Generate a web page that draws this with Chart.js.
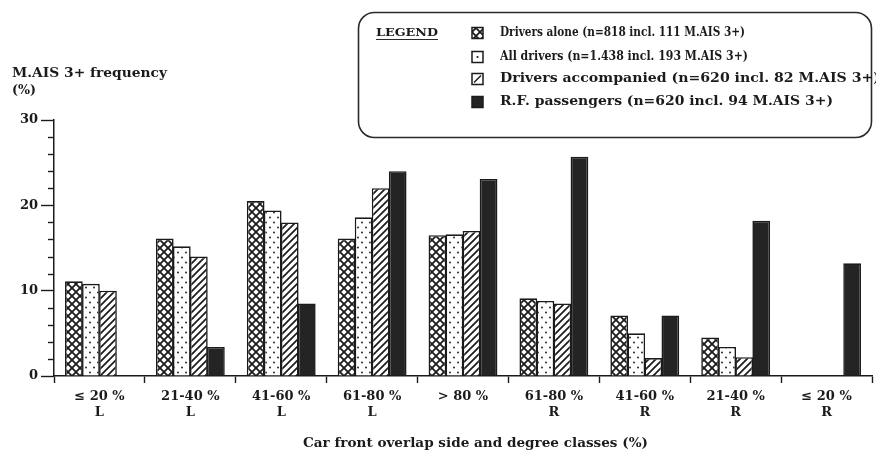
<!DOCTYPE html>
<html>
<head>
<meta charset="utf-8">
<script src="https://cdn.jsdelivr.net/npm/chart.js@4.4.1/dist/chart.umd.min.js"></script>
<style>
  html, body { margin: 0; padding: 0; background: #ffffff; }
  canvas { display: block; }
</style>
</head>
<body>
<canvas id="chart" width="876" height="454"></canvas>
<script>
// Overlap classes: side of the car front (L / R) and degree of overlap
const categories = [
  ["≤ 20 %", "L"],
  ["21-40 %", "L"],
  ["41-60 %", "L"],
  ["61-80 %", "L"],
  ["> 80 %"],
  ["61-80 %", "R"],
  ["41-60 %", "R"],
  ["21-40 %", "R"],
  ["≤ 20 %", "R"]
];

const seriesNames = [
  "Drivers alone (n=818 incl. 111 M.AIS 3+)",
  "All drivers (n=1.438 incl. 193 M.AIS 3+)",
  "Drivers accompanied (n=620 incl. 82 M.AIS 3+)",
  "R.F. passengers (n=620 incl. 94 M.AIS 3+)"
];

// M.AIS 3+ frequency in percent per overlap class
const driversAlone       = [11.1, 16.1, 20.5, 16.1, 16.5, 9.1, 7.1, 4.5, null];
const allDrivers         = [10.8, 15.2, 19.4, 18.6, 16.6, 8.8, 5.0, 3.4, null];
const driversAccompanied = [10.0, 14.0, 18.0, 22.0, 17.0, 8.5, 2.1, 2.2, null];
const rfPassengers       = [null, 3.4, 8.5, 24.0, 23.1, 25.7, 7.1, 18.2, 13.2];

const yTicks = [0, 10, 20, 30];
const yMinorStep = 2;

const yTitleLines = ["M.AIS 3+ frequency", "(%)"];
const xTitle = "Car front overlap side and degree classes (%)";
const legendHeading = "LEGEND";

const INK = "#1b1b1b";
const FONT = "'DejaVu Serif', 'Liberation Serif', serif";

// Fill patterns for the monochrome bars
function makePattern(kind) {
  const c = document.createElement("canvas");
  const g = c.getContext("2d");
  if (kind === "cross") {
    const s = 8;
    c.width = s; c.height = s;
    g.fillStyle = "#fff"; g.fillRect(0, 0, s, s);
    g.strokeStyle = INK; g.lineWidth = 1.8;
    g.beginPath();
    g.moveTo(-1, -1); g.lineTo(s + 1, s + 1);
    g.moveTo(-1, s + 1); g.lineTo(s + 1, -1);
    g.stroke();
  } else if (kind === "dots") {
    const w = 8, h = 10;
    c.width = w; c.height = h;
    g.fillStyle = "#fff"; g.fillRect(0, 0, w, h);
    g.fillStyle = "#2a2a2a";
    g.beginPath(); g.arc(2, 2.5, 1.0, 0, Math.PI * 2); g.fill();
    g.beginPath(); g.arc(6, 7.5, 1.0, 0, Math.PI * 2); g.fill();
  } else if (kind === "slash") {
    const s = 7;
    c.width = s; c.height = s;
    g.fillStyle = "#fff"; g.fillRect(0, 0, s, s);
    g.strokeStyle = INK; g.lineWidth = 1.7;
    g.beginPath();
    g.moveTo(-1, s + 1); g.lineTo(s + 1, -1);
    g.moveTo(-2, 2); g.lineTo(2, -2);
    g.moveTo(s - 2, s + 2); g.lineTo(s + 2, s - 2);
    g.stroke();
  } else {
    return "#242424";
  }
  return g.createPattern(c, "repeat");
}

const hatches = ["cross", "dots", "slash", "solid"];
const seriesValues = [driversAlone, allDrivers, driversAccompanied, rfPassengers];

const datasets = seriesValues.map((values, i) => ({
  label: seriesNames[i],
  data: values,
  hatch: hatches[i],
  backgroundColor: makePattern(hatches[i]),
  borderColor: INK,
  borderWidth: 1.6,
  categoryPercentage: 0.75,
  barPercentage: 1.04
}));

// Draws text squeezed or stretched to a given width, vertically centred on yMid
function fitText(ctx, text, x, yMid, width, font) {
  ctx.save();
  ctx.font = font;
  ctx.textBaseline = "middle";
  ctx.textAlign = "left";
  const m = ctx.measureText(text).width;
  ctx.translate(x, yMid);
  ctx.scale(width / m, 1);
  ctx.fillText(text, 0, 0);
  ctx.restore();
}

function drawLegendIcon(ctx, kind, pattern, x, y, s) {
  ctx.save();
  ctx.fillStyle = kind === "solid" ? "#242424" : "#fff";
  ctx.fillRect(x, y, s, s);
  ctx.strokeStyle = INK;
  ctx.lineWidth = 1.5;
  if (kind === "cross") {
    ctx.fillStyle = pattern;
    ctx.fillRect(x, y, s, s);
  } else if (kind === "dots") {
    ctx.fillStyle = INK;
    ctx.beginPath(); ctx.arc(x + s / 2, y + s / 2, 1.1, 0, Math.PI * 2); ctx.fill();
  } else if (kind === "slash") {
    ctx.beginPath();
    ctx.moveTo(x + 2, y + s - 2); ctx.lineTo(x + s - 2, y + 2);
    ctx.stroke();
  }
  ctx.strokeRect(x, y, s, s);
  ctx.restore();
}

const annotations = {
  id: "annotations",
  afterDraw(chart) {
    const { ctx, chartArea, scales } = chart;
    const y = scales.y;
    ctx.save();
    ctx.fillStyle = INK;
    ctx.strokeStyle = INK;

    // minor ticks on the value axis
    ctx.lineWidth = 1.4;
    for (let v = 0; v <= y.max; v += yMinorStep) {
      if (yTicks.includes(v)) continue;
      const py = Math.round(y.getPixelForValue(v)) + 0.5;
      ctx.beginPath();
      ctx.moveTo(chartArea.left - 6, py);
      ctx.lineTo(chartArea.left, py);
      ctx.stroke();
    }

    // value axis title, top left
    fitText(ctx, yTitleLines[0], 12, 74, 155, "bold 13px " + FONT);
    fitText(ctx, yTitleLines[1], 12, 91, 24, "bold 13px " + FONT);

    // category axis title
    fitText(ctx, xTitle, 303, 444, 345, "bold 13px " + FONT);

    // legend frame
    ctx.lineWidth = 1.6;
    ctx.strokeStyle = "#2a2a2a";
    ctx.beginPath();
    ctx.roundRect(358.5, 12.5, 513, 125, 16);
    ctx.stroke();

    // legend heading, underlined
    ctx.fillStyle = INK;
    fitText(ctx, legendHeading, 376, 33, 62, "bold 11px " + FONT);
    ctx.lineWidth = 1.2;
    ctx.beginPath();
    ctx.moveTo(376, 39.5); ctx.lineTo(438, 39.5);
    ctx.stroke();

    // legend entries
    const rowY = [33, 57, 79, 102];
    const rowW = [245, 248, 380, 333];
    chart.data.datasets.forEach((ds, i) => {
      drawLegendIcon(ctx, ds.hatch, ds.backgroundColor, 472, rowY[i] - 5.5, 11);
      ctx.fillStyle = INK;
      fitText(ctx, ds.label, 500, rowY[i], rowW[i], "bold 12px " + FONT);
    });

    ctx.restore();
  }
};

new Chart(document.getElementById("chart"), {
  type: "bar",
  data: { labels: categories, datasets },
  plugins: [annotations],
  options: {
    responsive: false,
    devicePixelRatio: 1,
    animation: false,
    layout: { padding: { top: 120, right: 4, left: 0, bottom: 0 } },
    plugins: {
      legend: { display: false },
      tooltip: { enabled: false }
    },
    scales: {
      x: {
        offset: true,
        grid: {
          offset: true,
          drawOnChartArea: false,
          drawTicks: true,
          tickLength: 7,
          tickColor: INK,
          tickWidth: 1.4
        },
        border: { display: true, color: INK, width: 1.5 },
        ticks: {
          color: INK,
          padding: 6,
          autoSkip: false,
          maxRotation: 0,
          font: { family: FONT, size: 13, weight: "bold", lineHeight: 1.2 }
        },
        afterFit(scale) { scale.height = 78; }
      },
      y: {
        min: 0,
        max: 30,
        afterBuildTicks(scale) { scale.ticks = yTicks.map(v => ({ value: v })); },
        grid: {
          drawOnChartArea: false,
          drawTicks: true,
          tickLength: 13,
          tickColor: INK,
          tickWidth: 1.4
        },
        border: { display: true, color: INK, width: 1.5 },
        ticks: {
          color: INK,
          padding: 3,
          font: { family: FONT, size: 13, weight: "bold" }
        },
        afterFit(scale) { scale.width = 54; }
      }
    }
  }
});
</script>
</body>
</html>
